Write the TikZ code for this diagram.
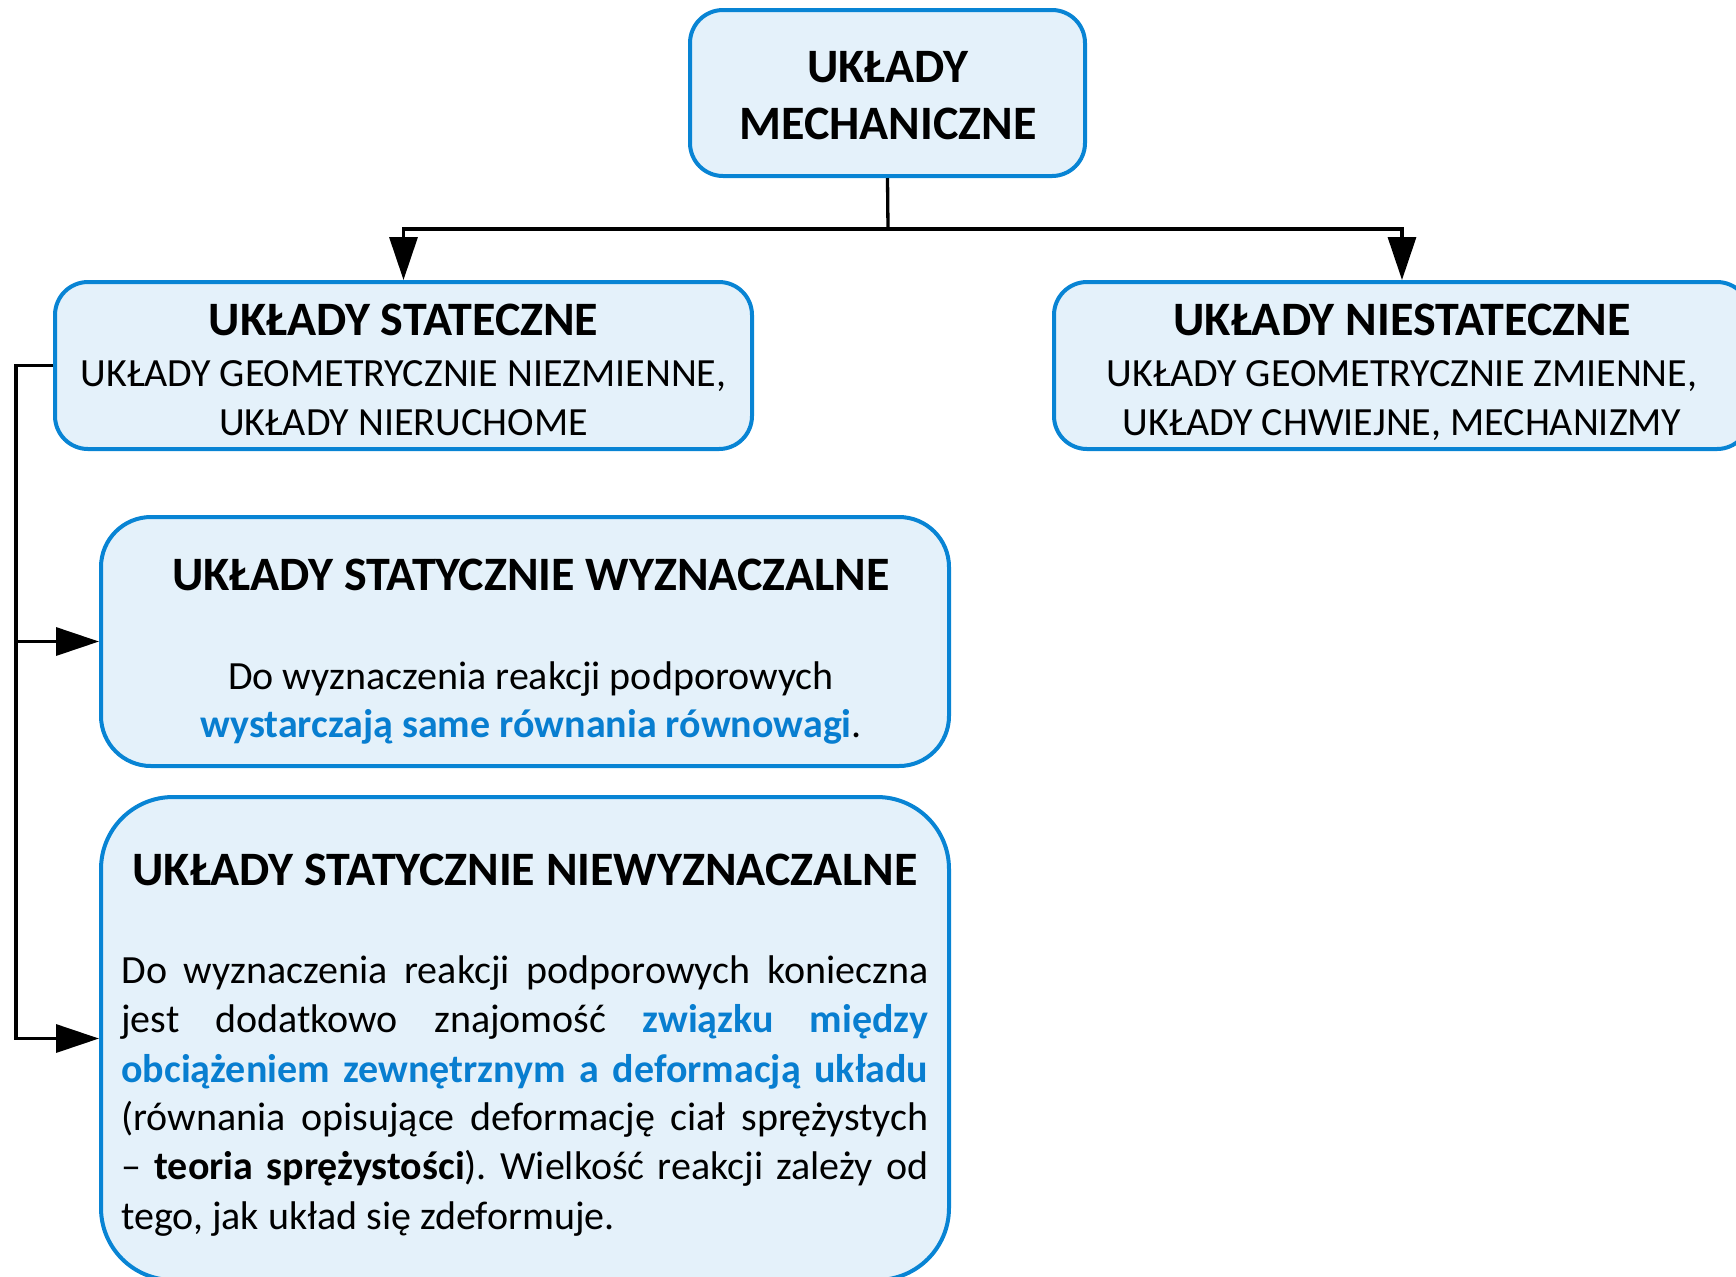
\documentclass[tikz,border=0pt]{standalone}
\usepackage{fontspec}
\setmainfont{Carlito}
\usetikzlibrary{arrows.meta}
\definecolor{boxfill}{RGB}{228,241,250}
\definecolor{boxline}{RGB}{8,132,212}
\definecolor{hl}{RGB}{8,126,208}

\tikzset{
  panel/.style={draw=boxline, fill=boxfill, line width=2pt, rounded corners=#1, inner sep=0pt},
  ttl/.style={font=\fontsize{24}{28}\selectfont\bfseries, anchor=base, inner sep=0pt},
  txt/.style={font=\fontsize{20}{24}\selectfont, anchor=base, inner sep=0pt},
  jline/.style={font=\fontsize{20}{24}\selectfont, anchor=base west, inner sep=0pt},
  link/.style={line width=1.65pt, -{Triangle[length=21.5pt,width=14pt]}},
  plain/.style={line width=1.65pt},
}
% one justified line of the long description
\newcommand{\fullline}[1]{\makebox[403.5pt][s]{#1}}
\frenchspacing

\begin{document}
\begin{tikzpicture}[x=0.5pt, y=-0.5pt]
  \useasboundingbox (0,0) rectangle (1736,1276);
  \clip (0,0) rectangle (1736,1276);

  % boxes
  \node[panel=16.5pt, minimum width=197.5pt, minimum height=83pt] (top) at (887.5,93) {};
  \node[panel=16.5pt, minimum width=348.5pt, minimum height=83.5pt] (sta) at (403.5,365.5) {};
  \node[panel=16.5pt, minimum width=348pt, minimum height=83.5pt] (nsta) at (1402,365.5) {};
  \node[panel=25pt, minimum width=424pt, minimum height=124.5pt] (w3) at (525,641.5) {};
  \node[panel=36pt, minimum width=424pt, minimum height=241.5pt] (w4) at (525,1038.5) {};

  % texts
  \node[ttl] (t1) at (888,82) {UKŁADY};
  \node[ttl] (t2) at (888,139) {MECHANICZNE};

  \node[ttl] (s1) at (403.5,335) {UKŁADY STATECZNE};
  \node[txt] (s2) at (403.5,386) {UKŁADY GEOMETRYCZNIE NIEZMIENNE,};
  \node[txt] (s3) at (403.5,435) {UKŁADY NIERUCHOME};

  \node[ttl] (n1) at (1402,335) {UKŁADY NIESTATECZNE};
  \node[txt] (n2) at (1402,386) {UKŁADY GEOMETRYCZNIE ZMIENNE,};
  \node[txt] (n3) at (1402,435) {UKŁADY CHWIEJNE, MECHANIZMY};

  \node[ttl] (w3t) at (531,590) {UKŁADY STATYCZNIE WYZNACZALNE};
  \node[txt] (w3a) at (531,689) {Do wyznaczenia reakcji podporowych};
  \node[txt] (w3b) at (531,737) {\textcolor{hl}{\bfseries wystarczają same równania równowagi}.};

  \node[ttl] (w4t) at (525,885) {UKŁADY STATYCZNIE NIEWYZNACZALNE};
  \node[jline] (l1) at (121,983) {\fullline{Do wyznaczenia reakcji podporowych konieczna}};
  \node[jline] (l2) at (121,1032) {\fullline{jest dodatkowo znajomość \textcolor{hl}{\bfseries związku} \textcolor{hl}{\bfseries między}}};
  \node[jline] (l3) at (121,1082) {\fullline{\textcolor{hl}{\bfseries obciążeniem} \textcolor{hl}{\bfseries zewnętrznym} \textcolor{hl}{\bfseries a} \textcolor{hl}{\bfseries deformacją} \textcolor{hl}{\bfseries układu}}};
  \node[jline] (l4) at (121,1130) {\fullline{(równania opisujące deformację ciał sprężystych}};
  \node[jline] (l5) at (121,1179) {\fullline{– \textbf{teoria} \textbf{sprężystości}). Wielkość reakcji zależy od}};
  \node[jline] (l6) at (121,1229) {tego, jak układ się zdeformuje.};

  % connectors
  \coordinate (j) at (888,229);
  \draw[plain] (top.south) -- (j);
  \draw[link] (j) -| (sta.north);
  \draw[link] (j) -| (nsta.north);
  \coordinate (tr) at (16,365.5);
  \draw[link] (sta.west) -- (tr) |- (w4.west);
  \draw[link] (tr |- w3.west) -- (w3.west);
\end{tikzpicture}
\end{document}
